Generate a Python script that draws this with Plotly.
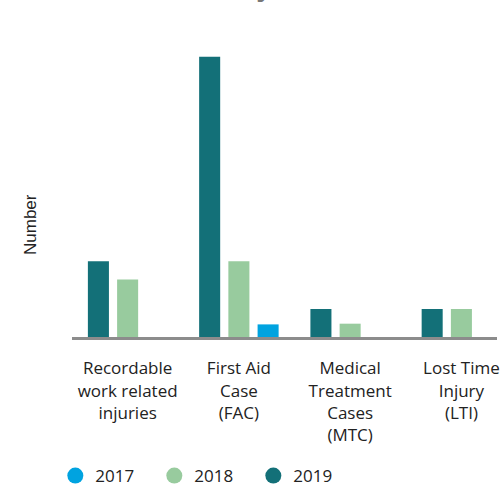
import plotly.graph_objects as go

categories = ["Recordable<br>work related<br>injuries", "First Aid<br>Case<br>(FAC)",
              "Medical<br>Treatment<br>Cases<br>(MTC)", "Lost Time<br>Injury<br>(LTI)"]
years = ["2019", "2018", "2017"]
values_2019 = [5.4, 20, 2, 2]
values_2018 = [4.1, 5.4, 0.95, 2]
values_2017 = [0, 0.9, 0, 0]
colors = {"2017": "#00A3E0", "2018": "#98CB9E", "2019": "#137078"}
series = {"2019": values_2019, "2018": values_2018, "2017": values_2017}

fig = go.Figure()
for yr in years:
    fig.add_trace(go.Bar(x=categories, y=series[yr], name=yr, marker_color=colors[yr],
                         marker_line_width=0, showlegend=False))
for yr in ["2017", "2018", "2019"]:
    fig.add_trace(go.Scatter(x=[None], y=[None], mode="markers", name=yr,
                             marker=dict(symbol="circle", size=16, color=colors[yr])))

text_font = "Open Sans, sans-serif"
fig.update_layout(
    width=503, height=486,
    margin=dict(l=72, r=6, t=40, b=149, autoexpand=False),
    paper_bgcolor="white", plot_bgcolor="white",
    barmode="group", bargap=0.212, bargroupgap=0.28,
    font=dict(family=text_font, size=17, color="#222222"),
    xaxis=dict(type="category", range=[-0.5, 3.32], showline=True, linecolor="#8c8c8c",
               linewidth=3, ticks="", showgrid=False, zeroline=False, automargin=False,
               tickfont=dict(family=text_font, size=17, color="#222222"),
               ticklabelstandoff=14),
    yaxis=dict(range=[0, 21.19], visible=False, automargin=False),
    showlegend=True,
    legend=dict(orientation="h", xref="container", yref="container", x=0.11, y=1 - 476 / 486,
                xanchor="left", yanchor="middle", entrywidth=54,
                font=dict(family=text_font, size=17, color="#222222")),
    annotations=[
        dict(text="Number", xref="paper", yref="paper", x=(31 - 72) / 425, y=(337 - 225) / 297,
             textangle=-90, showarrow=False, xanchor="center", yanchor="middle",
             font=dict(family="Liberation Sans, Arial, sans-serif", size=17, color="#222222")),
        dict(text="<b>Work-Related Injuries (Number)</b>", xref="paper", yref="paper",
             x=(257 - 72) / 425, y=(337 - 5) / 297, xanchor="center", yanchor="bottom",
             showarrow=False, font=dict(family=text_font, size=24, color="#777777")),
    ],
)

fig.write_html("out.html", post_script="document.body.style.margin='0';",
               config={"displayModeBar": False})
